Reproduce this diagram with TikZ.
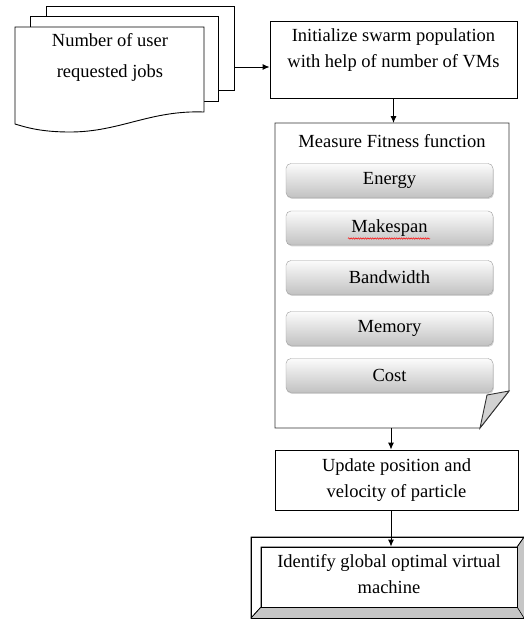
\documentclass[tikz,border=0pt]{standalone}
\usepackage{fontspec}
\setmainfont{Liberation Serif}
\usetikzlibrary{shadows,decorations.pathmorphing,arrows.meta}

\tikzset{
    sheet/.style={draw, fill=white, line width=0.9pt},
    stepbox/.style={draw, fill=white, line width=0.9pt},
    label/.style={align=center, font=\fontsize{18.5}{26}\selectfont},
    button/.style={draw=gray!75, rounded corners=5pt, top color=gray!3, bottom color=gray!48,
        minimum width=207, minimum height=34, font=\fontsize{18.5}{26}\selectfont,
        drop shadow={shadow xshift=0.8pt, shadow yshift=-1.3pt, opacity=0.35}},
    flow/.style={-{Latex[length=7pt, width=6pt]}, line width=0.9pt}
}

\begin{document}
\begin{tikzpicture}[x=1pt, y=-1pt]
        \useasboundingbox (0,0) rectangle (524,619);

        % stack of job documents
        \node (jobs3) at (140, 48) [sheet, minimum width=188, minimum height=84] {};
        \node (jobs2) at (124, 58.5) [sheet, minimum width=188, minimum height=85] {};
        \filldraw[fill=white, line width=0.9pt] (15,27) -- (204,27) -- (204,112)
            .. controls (150,110) and (120,132) .. (70,132)
            .. controls (40,132) and (25,127) .. (15,124) -- cycle;
        \node (jobs) at (110, 57) [align=center, font=\fontsize{18.5}{31}\selectfont] {Number of user\\requested jobs};
        \coordinate (jobsout) at (234, 67);

        % swarm initialisation
        \node (init) at (393.5, 59.5) [stepbox, minimum width=247, minimum height=77] {};
        \node (inittext) at (393.5, 50) [label] {Initialize swarm population\\with help of number of VMs};

        % fitness document with folded corner
        \filldraw[fill=white, draw=black!80, line width=0.9pt] (275,123) -- (509,123) -- (509,391)
            -- (480,428) -- (275,428) -- cycle;
        \filldraw[fill=gray!35, draw=black!80, line width=0.9pt] (509,391) -- (487,395) -- (480,428) -- cycle;
        \coordinate (fittop) at (393.5, 123);
        \coordinate (fitbot) at (391, 428);
        \node (fit) at (392, 141) [label] {Measure Fitness function};

        \node (energy) at (389.5, 180.5) [button] {Energy};
        \node (makespan) at (389.5, 228) [button] {Makespan};
        \node (bandwidth) at (389.5, 277.5) [button] {Bandwidth};
        \node (memory) at (389.5, 328.5) [button] {Memory};
        \node (cost) at (389.5, 375.5) [button] {Cost};
        \draw[red, line width=0.5pt, decorate, decoration={snake, amplitude=0.7pt, segment length=2.4pt}]
            (348,238.5) -- (430,238.5);

        % particle update
        \node (update) at (396.5, 480) [stepbox, minimum width=243, minimum height=60, label] {Update position and\\velocity of particle};

        % bevelled result box
        \filldraw[fill=gray!45, line width=0.9pt] (251,537) -- (524,537) -- (524,618) -- (251,618) -- cycle;
        \filldraw[fill=white, line width=0.6pt] (251,537) -- (524,537) -- (517,547) -- (261,547) -- (261,607) -- (251,618) -- cycle;
        \node (best) at (389, 577) [stepbox, minimum width=256, minimum height=60] {};
        \draw[line width=0.6pt] (best.north east) -- (524,537) (best.south east) -- (524,618)
            (best.south west) -- (251,618);
        \node (besttext) at (389, 574.5) [label] {Identify global optimal virtual\\machine};

        % connectors
        \draw[flow] (jobsout) -- (jobsout -| init.west);
        \draw[flow] (init.south) -- (fittop);
        \draw[flow] (fitbot) -- (fitbot |- update.north);
        \draw[flow] (fitbot |- update.south) -- (fitbot |- best.north);
        \draw[line width=0.9pt] (251,537) rectangle (524,618);
    \end{tikzpicture}
\end{document}
